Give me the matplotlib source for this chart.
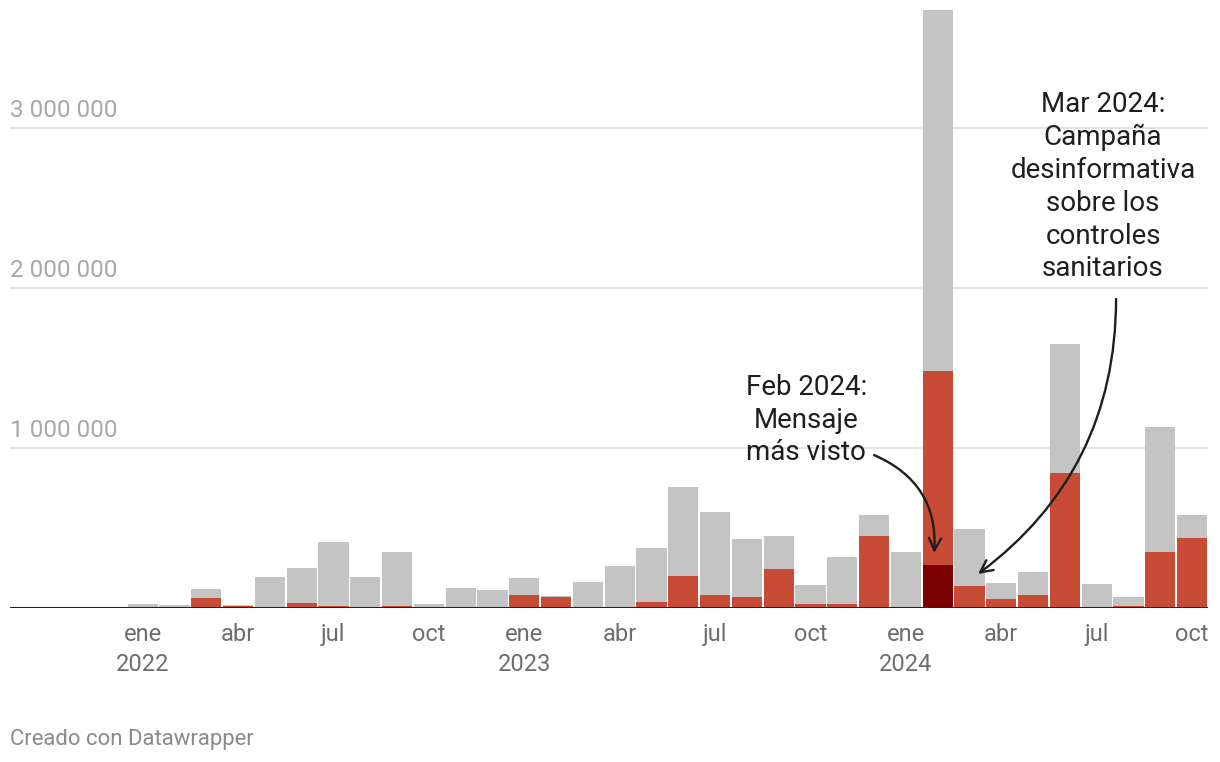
import matplotlib
matplotlib.use("Agg")
import matplotlib.pyplot as plt
import numpy as np

plt.rcParams['font.family'] = ['Roboto', 'DejaVu Sans']

# Monthly data, Jan 2022 .. Oct 2024
months = ["ene 2022", "feb", "mar", "abr", "may", "jun", "jul", "ago", "sep", "oct", "nov", "dic",
          "ene 2023", "feb", "mar", "abr", "may", "jun", "jul", "ago", "sep", "oct", "nov", "dic",
          "ene 2024", "feb", "mar", "abr", "may", "jun", "jul", "ago", "sep", "oct"]
total_views = [25e3, 19e3, 119e3, 19e3, 194e3, 250e3, 412e3, 194e3, 350e3, 25e3, 125e3, 112e3,
               188e3, 75e3, 162e3, 262e3, 375e3, 756e3, 600e3, 431e3, 450e3, 144e3, 319e3, 581e3,
               350e3, 3737e3, 494e3, 156e3, 225e3, 1650e3, 150e3, 69e3, 1130e3, 581e3]
disinfo_views = [0, 0, 65e3, 12e3, 6e3, 31e3, 12e3, 0, 12e3, 0, 0, 6e3,
                 81e3, 69e3, 6e3, 0, 38e3, 200e3, 81e3, 69e3, 244e3, 25e3, 25e3, 450e3,
                 6e3, 1480e3, 138e3, 56e3, 81e3, 844e3, 0, 12e3, 350e3, 438e3]
top_message_month = "feb 2024"
top_message_index = 25
top_message_views = 270e3

tick_positions = [0, 3, 6, 9, 12, 15, 18, 21, 24, 27, 30, 33]
tick_labels = ["ene\n2022", "abr", "jul", "oct", "ene\n2023", "abr", "jul", "oct",
               "ene\n2024", "abr", "jul", "oct"]
grid_values = [1e6, 2e6, 3e6]
grid_labels = ["1 000 000", "2 000 000", "3 000 000"]

GRAY = "#c4c4c4"
RED = "#c84c35"
DARK = "#7b0000"

fig = plt.figure(figsize=(12.2, 7.62), dpi=100)
ax = fig.add_axes([10/1220, 154/762, 1198/1220, 608/762])
ax.set_xlim(-4.17, 33.5)
ax.set_ylim(0, 3.8e6)

x = np.arange(len(months))
w = 0.95
ax.bar(x, total_views, width=w, color=GRAY, zorder=2)
ax.bar(x, disinfo_views, width=w, color=RED, zorder=3)
ax.bar([top_message_index], [top_message_views], width=w, color=DARK, zorder=4)

for v, lab in zip(grid_values, grid_labels):
    ax.axhline(v, color="#e3e3e3", lw=1.5, zorder=1)
    ax.annotate(lab, xy=(0, v), xycoords=("axes fraction", "data"),
                xytext=(0, 4), textcoords="offset points", ha="left", va="bottom",
                fontsize=17.5, color="#a8a8a8")
ax.axhline(0, color="#222222", lw=2.2, zorder=5)

for s in ax.spines.values():
    s.set_visible(False)
ax.set_yticks([])
ax.set_xticks(tick_positions)
ax.set_xticklabels(tick_labels, fontsize=17, color="#6e6e6e")
for t in ax.get_xticklabels():
    t.set_linespacing(1.4)
ax.tick_params(axis="x", length=0, pad=11)

# Annotations
ax.text(20.87, 1.175e6, "Feb 2024:\nMensaje\nmás visto", ha="center", va="center",
        fontsize=20, color="#1e1e1e", linespacing=1.28, zorder=6)
ax.annotate("", xy=(24.89, 0.344e6), xytext=(23.0, 0.956e6),
            arrowprops=dict(arrowstyle="->", connectionstyle="arc3,rad=-0.35",
                            lw=1.7, color="#1e1e1e", shrinkA=0, shrinkB=0,
                            mutation_scale=22), zorder=6)
ax.text(30.2, 2.634e6, "Mar 2024:\nCampaña\ndesinformativa\nsobre los\ncontroles\nsanitarios",
        ha="center", va="center", fontsize=20, color="#1e1e1e", linespacing=1.28, zorder=6)
ax.annotate("", xy=(26.27, 0.2125e6), xytext=(30.61, 1.931e6),
            arrowprops=dict(arrowstyle="->", connectionstyle="arc3,rad=-0.25",
                            lw=1.7, color="#1e1e1e", shrinkA=0, shrinkB=0,
                            mutation_scale=22), zorder=6)

fig.text(10/1220, 1 - 739/762, "Creado con Datawrapper", ha="left", va="center",
         fontsize=15.9, color="#8a8a8a")

fig.savefig("out.png", dpi=100, facecolor="white")
